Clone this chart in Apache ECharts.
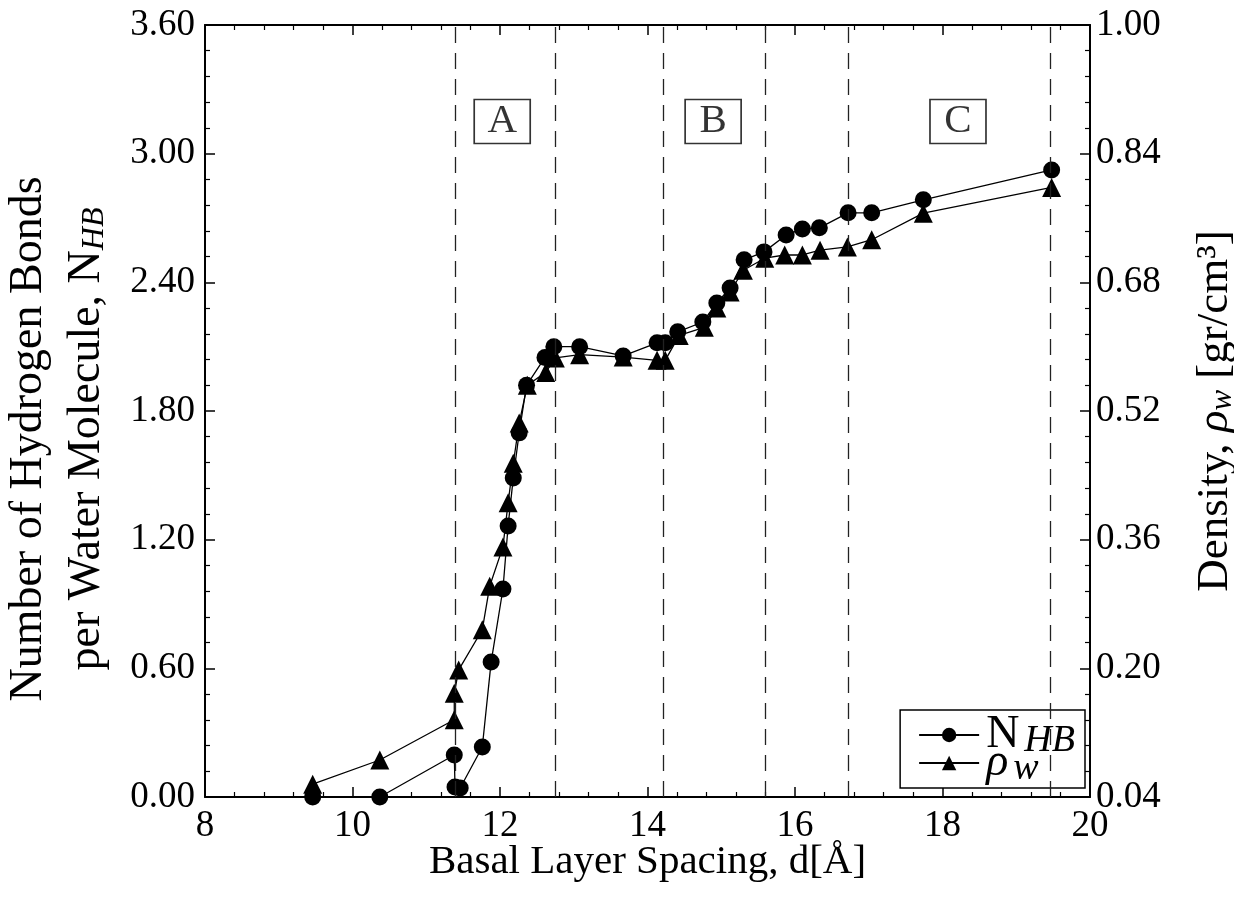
<!DOCTYPE html>
<html>
<head>
<meta charset="utf-8">
<script src="https://cdn.jsdelivr.net/npm/echarts@6/dist/echarts.min.js"></script>
<style>html,body{margin:0;padding:0;background:#fff}#c{width:1234px;height:904px}</style>
</head>
<body>
<div id="c"></div>
<script>
// ---- data ----
const nhbX = [9.46, 10.37, 11.38, 11.39, 11.46, 11.76, 11.88, 12.04, 12.11, 12.18, 12.26, 12.36, 12.61, 12.73, 13.08, 13.67, 14.13, 14.24, 14.41, 14.75, 14.94, 15.12, 15.31, 15.58, 15.88, 16.10, 16.33, 16.72, 17.04, 17.74, 19.48];
const nhbY = [0.00, 0.00, 0.196, 0.047, 0.042, 0.233, 0.63, 0.97, 1.264, 1.488, 1.698, 1.92, 2.05, 2.10, 2.10, 2.057, 2.118, 2.118, 2.169, 2.215, 2.304, 2.374, 2.505, 2.542, 2.621, 2.649, 2.654, 2.724, 2.724, 2.785, 2.924];
const rhoX = [9.46, 10.37, 11.38, 11.38, 11.44, 11.76, 11.86, 12.04, 12.11, 12.18, 12.26, 12.37, 12.62, 12.75, 13.08, 13.67, 14.13, 14.24, 14.43, 14.77, 14.94, 15.12, 15.30, 15.59, 15.86, 16.10, 16.34, 16.71, 17.04, 17.74, 19.48];
const rhoY = [0.056, 0.086, 0.136, 0.169, 0.198, 0.248, 0.302, 0.351, 0.406, 0.455, 0.505, 0.552, 0.568, 0.586, 0.590, 0.587, 0.583, 0.583, 0.614, 0.624, 0.648, 0.668, 0.695, 0.710, 0.714, 0.714, 0.720, 0.724, 0.733, 0.766, 0.798];
const vLines = [11.39, 12.75, 14.22, 15.59, 16.72, 19.46];
const regionNames = ['A', 'B', 'C'];
const regionX = [12.03, 14.89, 18.21];
const regionY = [3.15, 3.15, 3.15];

const FONT = 'Liberation Serif';
const FS = 37;   // tick labels
const NF = 41;   // x axis name
function richSet(size, sub, drop, lh, subLh, padM, padS) {
  return {
    m: {fontFamily: FONT, fontSize: size, color: '#000', lineHeight: lh, padding: [0, padM, 0, padM]},
    i: {fontFamily: FONT, fontSize: size, fontStyle: 'italic', color: '#000', lineHeight: lh, padding: [0, padM, 0, padM]},
    s: {fontFamily: FONT, fontSize: sub, fontStyle: 'italic', color: '#000', padding: [drop, 0, 0, padS],
        lineHeight: subLh}
  };
}

const chart = echarts.init(document.getElementById('c'), null, {renderer: 'canvas'});
const tickCommon = {
  axisLine: {show: true, lineStyle: {color: '#000', width: 2}},
  axisTick: {show: true, inside: true, length: 10, lineStyle: {color: '#000', width: 1.5}},
  minorTick: {show: true, splitNumber: 5, length: 5, lineStyle: {color: '#000', width: 1.2}},
  splitLine: {show: false}
};
const option = {
  backgroundColor: '#fff',
  animation: false,
  grid: {left: 205, right: 144, top: 25, bottom: 107, containLabel: false, outerBoundsMode: 'none'},
  legend: {
    orient: 'vertical', right: 149, bottom: 116,
    data: ['nhb', 'rho'],
    borderColor: '#000', borderWidth: 1.5, backgroundColor: '#fff',
    padding: [0, 10, 0, 18], itemGap: -22, itemWidth: 60, itemHeight: 18,
    textStyle: {fontFamily: FONT, fontSize: 46, color: '#000', lineHeight: 34,
      rich: richSet(46, 38, 12, 34, 24, 2, 3)},
    formatter: function (n) { return n === 'nhb' ? '{m|N}{s|HB}' : '{i|ρ}{s|w}'; }
  },
  xAxis: [
    Object.assign({
      type: 'value', min: 8, max: 20, interval: 2, position: 'bottom',
      name: 'Basal Layer Spacing, d[Å]', nameLocation: 'middle', nameGap: 45, nameMoveOverlap: false,
      nameTextStyle: {fontFamily: FONT, fontSize: NF, color: '#000', verticalAlign: 'top'},
      axisLabel: {fontFamily: FONT, fontSize: FS, color: '#000', margin: 11}
    }, tickCommon),
    Object.assign({
      type: 'value', min: 8, max: 20, interval: 2, position: 'top',
      axisLabel: {show: false}
    }, tickCommon)
  ],
  yAxis: [
    Object.assign({
      type: 'value', min: 0, max: 3.6, interval: 0.6, position: 'left',
      name: '{m|Number of Hydrogen Bonds}\n{m|per Water Molecule, N}{s|HB}',
      nameLocation: 'middle', nameGap: 89, nameMoveOverlap: false,
      nameTextStyle: {fontFamily: FONT, fontSize: 46, color: '#000', lineHeight: 58,
        padding: [0, 56, 0, 0], rich: richSet(46, 32, 16, 58, undefined, 0, 0)},
      axisLabel: {fontFamily: FONT, fontSize: FS, color: '#000', margin: 10,
        formatter: v => v.toFixed(2)}
    }, tickCommon),
    Object.assign({
      type: 'value', min: 0.04, max: 1.0, interval: 0.16, position: 'right',
      name: '{m|Density, }{i|ρ}{s|w}{m| [gr/cm³]}',
      nameLocation: 'middle', nameGap: 100, nameRotate: 90, nameMoveOverlap: false,
      nameTextStyle: {fontFamily: FONT, fontSize: 45, color: '#000', rich: richSet(45, 31, 16, 50, undefined, 0, 0)},
      axisLabel: {fontFamily: FONT, fontSize: FS, color: '#000', margin: 6,
        formatter: v => v.toFixed(2)}
    }, tickCommon)
  ],
  series: [
    {
      name: 'vlines', type: 'line', data: [], xAxisIndex: 0, yAxisIndex: 0,
      markLine: {
        silent: true, symbol: ['none', 'none'], label: {show: false},
        lineStyle: {color: '#222', width: 1.3, type: [16, 10]},
        data: vLines.map(x => ({xAxis: x}))
      }
    },
    {
      name: 'nhb', type: 'line', xAxisIndex: 0, yAxisIndex: 0,
      data: nhbX.map((x, i) => [x, nhbY[i]]),
      symbol: 'circle', symbolSize: 17,
      lineStyle: {color: '#000', width: 1.3},
      itemStyle: {color: '#000'}
    },
    {
      name: 'rho', type: 'line', xAxisIndex: 0, yAxisIndex: 1,
      data: rhoX.map((x, i) => [x, rhoY[i]]),
      symbol: 'triangle', symbolSize: 19,
      lineStyle: {color: '#000', width: 1.3},
      itemStyle: {color: '#000'}
    },
    {
      name: 'regions', type: 'scatter', xAxisIndex: 0, yAxisIndex: 0,
      data: regionNames.map((n, i) => ({value: [regionX[i], regionY[i]], name: n})),
      symbol: 'rect', symbolSize: [56, 44],
      itemStyle: {color: '#fff', borderColor: '#000', borderWidth: 1.5},
      label: {show: true, position: 'inside', formatter: p => p.name,
        fontFamily: FONT, fontSize: NF, color: '#000'}
    }
  ]
};
chart.setOption(option);
</script>
</body>
</html>
